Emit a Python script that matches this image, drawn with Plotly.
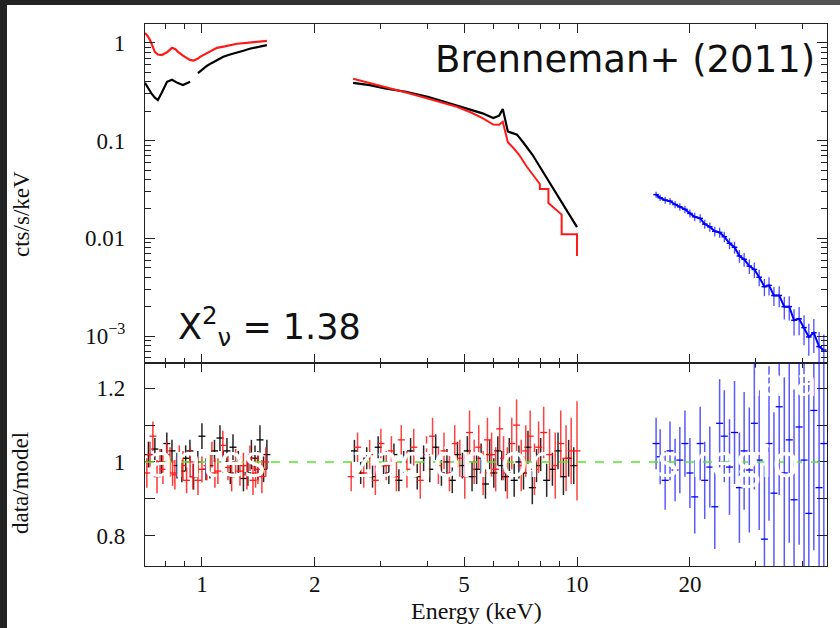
import math
import plotly.graph_objects as go

# ---------------- data ----------------
# Top panel: count spectra (cts/s/keV)
blk_soft_E = [0.705, 0.72, 0.735, 0.749, 0.763, 0.782, 0.807, 0.832, 0.86, 0.89, 0.91, 0.93,
              None, 0.976, 1.0, 1.03, 1.06, 1.097, 1.14, 1.188, 1.24, 1.29, 1.34, 1.39, 1.44, 1.49]
blk_soft_F = [0.39, 0.34, 0.30, 0.275, 0.26, 0.31, 0.40, 0.42, 0.39, 0.37, 0.385, 0.40,
              None, 0.49, 0.53, 0.58, 0.62, 0.67, 0.72, 0.76, 0.79, 0.83, 0.87, 0.90, 0.93, 0.95]
red_soft_E = [0.705, 0.716, 0.727, 0.738, 0.749, 0.763, 0.782, 0.807, 0.832, 0.85, 0.863, 0.89,
              0.929, 0.95, 0.976, 0.988, 1.04, 1.097, 1.15, 1.188, 1.24, 1.318, 1.368, 1.43, 1.49]
red_soft_F = [1.26, 1.18, 1.07, 0.93, 0.81, 0.76, 0.75, 0.80, 0.89, 0.86, 0.81, 0.74,
              0.67, 0.66, 0.69, 0.72, 0.80, 0.89, 0.92, 0.95, 0.98, 1.00, 1.02, 1.04, 1.05]
blk_hard_E = [2.53, 2.8, 3.1, 3.5, 4.0, 4.5, 4.78, 5.2, 5.6, 5.98, 6.2, 6.34, 6.45, 6.54,
              6.7, 6.92, 7.2, 7.6, 7.96, 8.5, 9.0, 9.5, 10.0]
blk_hard_F = [0.39, 0.37, 0.34, 0.316, 0.28, 0.245, 0.23, 0.21, 0.19, 0.17, 0.18, 0.21, 0.16,
              0.124, 0.12, 0.115, 0.095, 0.072, 0.054, 0.036, 0.025, 0.018, 0.013]
red_hard_E = [2.53, 2.8, 3.1, 3.5, 4.0, 4.5, 4.78, 5.2, 5.6, 5.98, 6.2, 6.34, 6.45, 6.54,
              6.75, 7.0, 7.35, 7.6, 7.96, 7.96, 8.39, 8.39, 9.1, 9.1, 10.0, 10.0]
red_hard_F = [0.43, 0.39, 0.35, 0.31, 0.27, 0.235, 0.222, 0.195, 0.17, 0.146, 0.145, 0.156, 0.12,
              0.096, 0.085, 0.072, 0.054, 0.045, 0.036, 0.032, 0.032, 0.023, 0.0175, 0.011, 0.011, 0.0066]
blue_E = [16.25, 16.66, 17.18, 17.7, 18.26, 18.8, 19.4, 20.0, 20.6, 21.3, 21.9, 22.6, 23.3, 24.0,
          24.7, 25.5, 26.3, 27.1, 27.9, 28.8, 29.7, 30.6, 31.6, 32.5, 33.5, 34.6, 35.7, 36.8,
          37.9, 39.1, 40.3, 41.5, 42.8, 44.2, 45.5]
blue_F = [0.0280, 0.0260, 0.0246, 0.0240, 0.0222, 0.0210, 0.0198, 0.0180, 0.0166, 0.0160,
          0.0140, 0.0131, 0.0118, 0.0115, 0.0104, 0.0089, 0.0081, 0.0066, 0.0061, 0.0052,
          0.0048, 0.0040, 0.0032, 0.0033, 0.0026, 0.0026, 0.0020, 0.0020, 0.00145, 0.00150,
          0.00122, 0.00098, 0.00108, 0.00078, 0.00072]

# Bottom panel: data/model ratios with errors
blk_rs_E = [0.72, 0.749, 0.78, 0.806, 0.832, 0.858, 0.884, 0.905, 0.929, 0.95, 0.975, 1.0, 1.025,
            1.05, 1.08, 1.117, 1.14, 1.166, 1.19, 1.21, 1.25, 1.29, 1.326, 1.355, 1.385, 1.41,
            1.428, 1.46, 1.49]
blk_rs_R = [1.02, 1.035, 1.0, 1.05, 1.03, 0.99, 0.975, 1.01, 1.03, 0.96, 1.0, 1.07, 0.98,
            0.99, 1.03, 1.065, 1.0, 1.03, 0.97, 1.04, 1.0, 0.955, 0.97, 1.02, 1.01, 0.99,
            1.06, 0.98, 1.02]
blk_rs_err = [0.035, 0.03, 0.035, 0.03, 0.03, 0.035, 0.03, 0.035, 0.03, 0.035, 0.03, 0.035, 0.03,
              0.035, 0.03, 0.035, 0.03, 0.035, 0.03, 0.035, 0.03, 0.035, 0.035, 0.04, 0.035, 0.04,
              0.04, 0.035, 0.04]
red_rs_E = [0.713, 0.727, 0.74, 0.759, 0.773, 0.787, 0.805, 0.822, 0.835, 0.847, 0.87, 0.89,
            0.91, 0.93, 0.946, 0.976, 1.0, 1.031, 1.063, 1.083, 1.103, 1.137, 1.173, 1.2, 1.23,
            1.263, 1.29, 1.318, 1.343, 1.368, 1.39, 1.41, 1.445, 1.48]
red_rs_R = [0.97, 1.02, 1.07, 0.96, 1.0, 0.98, 1.02, 1.0, 0.97, 0.965, 1.01, 0.99, 0.95, 1.0,
            0.96, 0.95, 0.98, 0.99, 1.02, 0.97, 0.975, 1.045, 0.985, 0.96, 1.0, 0.975, 0.99,
            0.965, 1.01, 0.95, 0.97, 0.98, 0.96, 1.0]
red_rs_err = [0.04, 0.035, 0.04, 0.045, 0.035, 0.04, 0.035, 0.04, 0.035, 0.04, 0.035, 0.04,
              0.035, 0.04, 0.035, 0.04, 0.035, 0.04, 0.035, 0.04, 0.035, 0.04, 0.035, 0.04,
              0.035, 0.04, 0.035, 0.04, 0.035, 0.04, 0.04, 0.04, 0.045, 0.04]
blk_rh_E = [2.55, 2.65, 2.75, 2.85, 2.95, 3.05, 3.15, 3.25, 3.35, 3.45, 3.6, 3.75, 3.9, 4.05,
            4.2, 4.35, 4.5, 4.65, 4.8, 4.95, 5.1, 5.25, 5.4, 5.55, 5.7, 5.85, 6.0, 6.15, 6.3,
            6.45, 6.6, 6.8, 7.0, 7.2, 7.4, 7.6, 7.8, 8.0, 8.3, 8.6, 8.9, 9.2, 9.5, 9.8]
blk_rh_R = [1.03, 0.97, 1.01, 0.96, 1.04, 0.99, 0.97, 1.02, 0.95, 1.0, 1.03, 0.96, 1.01, 0.98,
            1.04, 0.97, 1.0, 0.95, 1.02, 0.99, 1.03, 0.96, 0.98, 1.01, 0.94, 1.02, 0.97, 1.03,
            0.99, 0.96, 1.02, 0.95, 1.0, 0.97, 1.04, 0.93, 0.99, 1.02, 0.95, 0.98, 1.03, 0.96,
            1.01, 0.99]
blk_rh_err = [0.03, 0.03, 0.03, 0.03, 0.03, 0.03, 0.03, 0.03, 0.03, 0.03, 0.035, 0.035, 0.035,
              0.035, 0.035, 0.035, 0.035, 0.035, 0.035, 0.035, 0.04, 0.04, 0.04, 0.04, 0.04,
              0.04, 0.04, 0.04, 0.04, 0.04, 0.045, 0.045, 0.045, 0.045, 0.045, 0.045, 0.045,
              0.045, 0.045, 0.045, 0.05, 0.05, 0.05, 0.05]
red_rh_E = [2.5, 2.6, 2.7, 2.8, 2.9, 3.0, 3.1, 3.2, 3.3, 3.4, 3.52, 3.67, 3.82, 3.97, 4.12,
            4.27, 4.42, 4.57, 4.72, 4.87, 5.02, 5.17, 5.32, 5.47, 5.62, 5.77, 5.92, 6.07, 6.22,
            6.37, 6.52, 6.7, 6.9, 7.1, 7.3, 7.5, 7.7, 7.9, 8.15, 8.45, 8.75, 9.05, 9.35, 9.65, 10.0]
red_rh_R = [0.96, 1.04, 0.97, 1.02, 0.95, 1.05, 0.99, 1.03, 0.96, 1.06, 0.98, 1.04, 0.95, 1.02,
            1.07, 0.99, 1.03, 0.97, 1.05, 1.01, 0.96, 1.08, 1.0, 1.04, 0.97, 1.06, 1.02, 0.98,
            1.09, 1.01, 0.97, 1.05, 1.1, 0.99, 1.03, 1.07, 0.98, 1.04, 1.08, 1.02, 0.99, 1.05,
            1.01, 1.03, 1.03]
red_rh_err = [0.04, 0.04, 0.04, 0.04, 0.04, 0.04, 0.04, 0.04, 0.04, 0.04, 0.05, 0.05, 0.05,
              0.05, 0.05, 0.05, 0.05, 0.05, 0.05, 0.05, 0.06, 0.06, 0.06, 0.06, 0.06, 0.06, 0.06,
              0.06, 0.06, 0.06, 0.07, 0.07, 0.07, 0.07, 0.07, 0.07, 0.07, 0.07, 0.07, 0.07, 0.09,
              0.09, 0.09, 0.09, 0.135]
blue_R = [1.05, 1.014, 0.95, 1.03, 0.978, 1.005, 1.05, 0.97, 0.905, 1.05, 0.95, 0.986, 0.878,
          1.105, 1.07, 0.986, 1.08, 0.93, 1.03, 0.978, 1.105, 1.005, 0.79, 1.05, 0.915, 1.15,
          0.97, 1.06, 0.897, 1.095, 1.005, 0.86, 1.14, 0.93, 1.05]
blue_err = [0.07, 0.075, 0.08, 0.08, 0.085, 0.09, 0.09, 0.095, 0.1, 0.1, 0.105, 0.11, 0.115,
            0.12, 0.125, 0.13, 0.14, 0.15, 0.16, 0.17, 0.18, 0.19, 0.2, 0.21, 0.22, 0.24, 0.26,
            0.28, 0.3, 0.32, 0.34, 0.36, 0.38, 0.41, 0.44]

x_ticks = [1, 2, 5, 10, 20]
x_ticktext = ["1", "2", "5", "10", "20"]
x_minor = [0.8, 0.9, 3, 4, 6, 7, 8, 9, 30, 40]
y_ticks = [0.001, 0.01, 0.1, 1]
y_ticktext = ["10<sup>\u22123</sup>", "0.01", "0.1", "1"]
r_ticks = [0.8, 1, 1.2]
r_ticktext = ["0.8", "1", "1.2"]
r_minor = [0.9, 1.1]

# ---------------- layout geometry ----------------
W, H = 840, 628
L, R, T, B = 145, 827, 24, 566
SPLIT = 363


def px(x):
    return (x - L) / (R - L)


def py(y):
    return (B - y) / (B - T)


split = py(SPLIT)
y_minor = [m * 10 ** d for d in (-4, -3, -2, -1) for m in range(2, 10)]

RED = "#ff1a1a"
BLK = "#000000"
BLU = "#0000ff"

fig = go.Figure()

# top panel: spectra
fig.add_trace(go.Scatter(x=blk_soft_E, y=blk_soft_F, mode="lines", line=dict(color=BLK, width=2.2),
                         xaxis="x", yaxis="y", connectgaps=False))
fig.add_trace(go.Scatter(x=blk_hard_E, y=blk_hard_F, mode="lines", line=dict(color=BLK, width=2.2),
                         xaxis="x", yaxis="y"))
fig.add_trace(go.Scatter(x=red_soft_E, y=red_soft_F, mode="lines", line=dict(color=RED, width=2.2),
                         xaxis="x", yaxis="y"))
fig.add_trace(go.Scatter(x=red_hard_E, y=red_hard_F, mode="lines", line=dict(color=RED, width=2),
                         xaxis="x", yaxis="y"))
blue_Ferr = [f * e for f, e in zip(blue_F, blue_err)]
fig.add_trace(go.Scatter(x=blue_E, y=blue_F, mode="lines+markers",
                         line=dict(color=BLU, width=2),
                         marker=dict(symbol="line-ew-open", size=4, color=BLU, line=dict(width=1.5, color=BLU)),
                         error_y=dict(type="data", array=blue_Ferr, color="rgba(0,0,255,0.7)",
                                      thickness=1.3, width=0),
                         xaxis="x", yaxis="y"))


def resid(E, Rv, err, color, ecolor):
    return go.Scatter(x=E, y=Rv, mode="markers",
                      marker=dict(symbol="line-ew-open", size=5, color=color,
                                  line=dict(width=1.3, color=color)),
                      error_y=dict(type="data", array=err, color=ecolor, thickness=1.5, width=0),
                      xaxis="x2", yaxis="y2")


# bottom panel: ratios
fig.add_trace(resid(blk_rs_E, blk_rs_R, blk_rs_err, BLK, "rgba(0,0,0,0.85)"))
fig.add_trace(resid(red_rs_E, red_rs_R, red_rs_err, RED, "rgba(255,20,20,0.85)"))
fig.add_trace(resid(blk_rh_E, blk_rh_R, blk_rh_err, BLK, "rgba(0,0,0,0.85)"))
fig.add_trace(resid(red_rh_E, red_rh_R, red_rh_err, RED, "rgba(255,20,20,0.8)"))
fig.add_trace(resid(blue_E, blue_R, blue_err, BLU, "rgba(0,0,255,0.65)"))

axis_common = dict(showline=True, linecolor="#222", linewidth=1.3, mirror="allticks",
                   ticks="inside", tickwidth=1.3, tickcolor="#222", showgrid=False, zeroline=False,
                   tickfont=dict(family="Liberation Serif", size=23, color="#111"))
xrange = [math.log10(0.705), math.log10(46.4)]

fig.update_layout(
    width=W, height=H, autosize=False,
    margin=dict(l=L, r=W - R, t=T, b=H - B, pad=0),
    paper_bgcolor="#232323", plot_bgcolor="white",
    showlegend=False,
    xaxis=dict(type="log", range=xrange, domain=[0, 1], anchor="y", tickmode="array",
               tickvals=x_ticks, ticktext=x_ticktext, showticklabels=False, ticklen=9,
               minor=dict(tickmode="array", tickvals=x_minor, ticks="inside", ticklen=5,
                          tickwidth=1.2, tickcolor="#222", showgrid=False),
               **axis_common),
    xaxis2=dict(type="log", range=xrange, domain=[0, 1], anchor="y2", matches="x",
                tickmode="array", tickvals=x_ticks, ticktext=x_ticktext, ticklen=9,
                ticklabelstandoff=-3,
                minor=dict(tickmode="array", tickvals=x_minor, ticks="inside", ticklen=5,
                           tickwidth=1.2, tickcolor="#222", showgrid=False),
                **axis_common),
    yaxis=dict(type="log", range=[math.log10(5.3e-4), math.log10(1.56)], domain=[split, 1],
               anchor="x", tickmode="array", tickvals=y_ticks, ticktext=y_ticktext, ticklen=10,
               ticklabelstandoff=14,
               minor=dict(tickmode="array", tickvals=y_minor, ticks="inside", ticklen=6,
                          tickwidth=1.2, tickcolor="#222", showgrid=False),
               **axis_common),
    yaxis2=dict(type="linear", range=[0.717, 1.269], domain=[0, split], anchor="x2",
                tickmode="array", tickvals=r_ticks, ticktext=r_ticktext, ticklen=10,
                ticklabelstandoff=14,
                minor=dict(tickmode="array", tickvals=r_minor, ticks="inside", ticklen=10,
                           tickwidth=1.2, tickcolor="#222", showgrid=False),
                **axis_common),
)

shapes = []
# white slide area inside the dark slide frame (frame = paper background)
shapes.append(dict(type="rect", xref="paper", yref="paper", x0=px(7), x1=px(W + 2), y0=py(H + 2), y1=py(5),
                   fillcolor="white", line=dict(width=0), layer="below"))
# top frame strip gets lighter towards the right
top_cols = ["#2a2a2a", "#323232", "#3a3a3a", "#434343", "#4b4b4b", "#535353"]
n = len(top_cols)
for i, c in enumerate(top_cols, start=1):
    shapes.append(dict(type="rect", xref="paper", yref="paper", x0=px(W * i / (n + 1)), x1=px(W + 2),
                       y0=py(5), y1=py(-2), fillcolor=c, line=dict(width=0), layer="below"))
# green model line
shapes.append(dict(type="line", xref="x2 domain", yref="y2", x0=0, x1=1, y0=1, y1=1,
                   line=dict(color="#55e62a", width=1.6, dash="dash"), layer="above"))
fig.update_layout(shapes=shapes)

serif = "Liberation Serif"
ann = [
    dict(text="cts/s/keV", x=px(21), y=py(214), textangle=-90, font=dict(family=serif, size=23, color="#111")),
    dict(text="data/model", x=px(20), y=py(483), textangle=-90, font=dict(family=serif, size=23, color="#111")),
    dict(text="Energy (keV)", x=px(476), y=py(611), font=dict(family=serif, size=24, color="#111")),
    dict(text="Brenneman+ (2011)", x=px(433), y=py(59), xanchor="left",
         font=dict(family="DejaVu Sans", size=37, color="#111")),
    dict(text="X<sup>2</sup><sub>\u03bd</sub> = 1.38", x=px(176), y=py(326), xanchor="left",
         font=dict(family="DejaVu Sans", size=35, color="#111")),
    # white slide text bleeding over the residual panel
    dict(text="antes", x=px(146), y=py(459), xanchor="left", font=dict(family="Open Sans", size=46, color="white")),
    dict(text="zación or", x=px(350), y=py(459), xanchor="left", font=dict(family="Open Sans", size=46, color="white")),
    dict(text="s regio", x=px(655), y=py(459), xanchor="left", font=dict(family="Open Sans", size=46, color="white")),
    dict(text="ia a", x=px(750), y=py(380), xanchor="left", font=dict(family="Open Sans", size=40, color="white")),
]
for a in ann:
    a.setdefault("xanchor", "center")
    a.update(xref="paper", yref="paper", yanchor="middle", showarrow=False)
fig.update_layout(annotations=ann)

fig.write_html("out.html")
